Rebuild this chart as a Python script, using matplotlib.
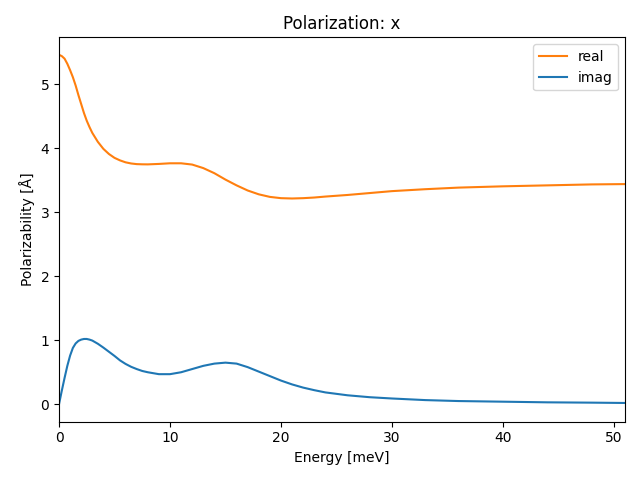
import matplotlib
matplotlib.use("Agg")
import matplotlib.pyplot as plt

energy = [0, 0.25, 0.5, 0.75, 1, 1.25, 1.5, 1.75, 2, 2.25, 2.5, 2.75, 3, 3.5, 4, 4.5,
          5, 5.5, 6, 6.5, 7, 7.5, 8, 9, 10, 11, 12, 13, 14, 15, 16, 17, 18, 19, 20,
          21, 22, 23, 24, 26, 28, 30, 33, 36, 40, 44, 48, 51]

real = [5.46, 5.44, 5.40, 5.32, 5.22, 5.11, 4.98, 4.83, 4.69, 4.55, 4.43, 4.33, 4.24,
        4.10, 3.99, 3.91, 3.85, 3.81, 3.78, 3.762, 3.752, 3.749, 3.748, 3.755, 3.765,
        3.765, 3.745, 3.69, 3.61, 3.51, 3.42, 3.34, 3.28, 3.24, 3.22, 3.215, 3.22,
        3.23, 3.245, 3.27, 3.30, 3.33, 3.36, 3.385, 3.405, 3.42, 3.435, 3.44]

imag = [0.0, 0.21, 0.41, 0.60, 0.76, 0.88, 0.95, 0.99, 1.01, 1.02, 1.02, 1.01, 0.995,
        0.945, 0.885, 0.82, 0.755, 0.685, 0.63, 0.585, 0.55, 0.52, 0.50, 0.47, 0.47,
        0.50, 0.55, 0.60, 0.635, 0.65, 0.635, 0.58, 0.51, 0.44, 0.37, 0.31, 0.26,
        0.22, 0.185, 0.14, 0.11, 0.09, 0.065, 0.05, 0.04, 0.03, 0.025, 0.02]

fig, ax = plt.subplots(figsize=(6.4, 4.8), dpi=100)
ax.plot(energy, real, color="#ff7f0e", label="real")
ax.plot(energy, imag, color="#1f77b4", label="imag")
ax.set_xlim(0, max(energy))
ax.set_title("Polarization: x")
ax.set_xlabel("Energy [meV]")
ax.set_ylabel("Polarizability [Å]")
ax.legend(loc="upper right")
fig.tight_layout()
fig.subplots_adjust(left=59 / 640)
fig.savefig("out.png")
